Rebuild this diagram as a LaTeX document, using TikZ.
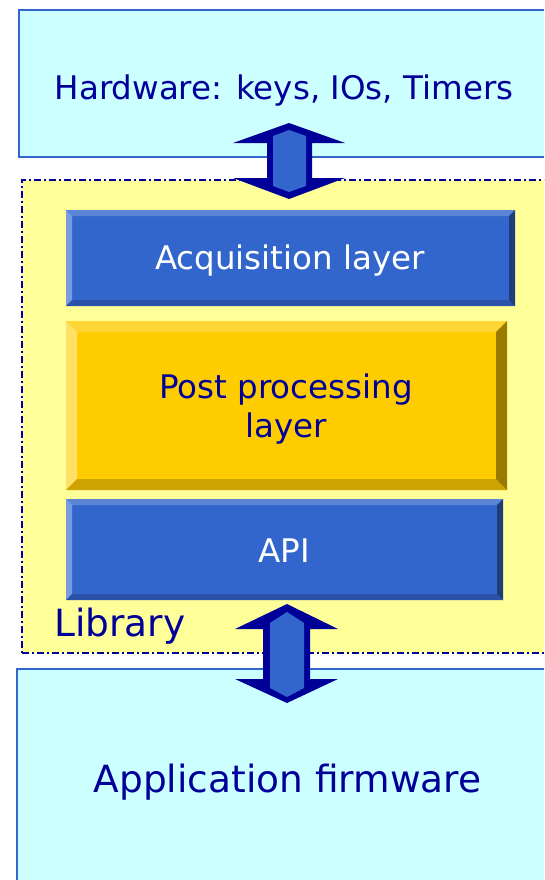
\documentclass[tikz,border=0pt]{standalone}
\usepackage{fontspec}
\setmainfont{DejaVu Sans}
\usetikzlibrary{calc}
\definecolor{cyanbg}{HTML}{CCFFFF}
\definecolor{boxblue}{HTML}{3366CC}
\definecolor{navy}{HTML}{000099}
\definecolor{libyellow}{HTML}{FFFF99}
\definecolor{gold}{HTML}{FFCC00}
\definecolor{bTop}{HTML}{5C85D6}
\definecolor{bLeft}{HTML}{7A9BE0}
\definecolor{bBot}{HTML}{2A52A8}
\definecolor{bRight}{HTML}{1F3D7A}
\definecolor{gTop}{HTML}{FFD633}
\definecolor{gLeft}{HTML}{FFE066}
\definecolor{gBot}{HTML}{CCA300}
\definecolor{gRight}{HTML}{997A00}
\newcommand\bevelon[6]{%
  \fill[#3] (#1.north west) -- (#1.north east) -- ([shift={(-#2,#2)}]#1.north east) -- ([shift={(#2,#2)}]#1.north west) -- cycle;
  \fill[#4] (#1.north west) -- (#1.south west) -- ([shift={(#2,-#2)}]#1.south west) -- ([shift={(#2,#2)}]#1.north west) -- cycle;
  \fill[#5] (#1.south west) -- (#1.south east) -- ([shift={(-#2,-#2)}]#1.south east) -- ([shift={(#2,-#2)}]#1.south west) -- cycle;
  \fill[#6] (#1.north east) -- (#1.south east) -- ([shift={(-#2,-#2)}]#1.south east) -- ([shift={(-#2,#2)}]#1.north east) -- cycle;
}
\tikzset{
  panel/.style={rectangle, fill=cyanbg, draw=boxblue, line width=2.4pt, inner sep=0pt, outer sep=0pt},
  libpanel/.style={rectangle, fill=libyellow, draw=navy, line width=2pt, dash pattern=on 7pt off 3pt on 2pt off 3pt, inner sep=0pt, outer sep=0pt},
  layerblue/.style={rectangle, fill=boxblue, inner sep=0pt, outer sep=0pt},
  layergold/.style={rectangle, fill=gold, inner sep=0pt, outer sep=0pt},
  smalltxt/.style={font=\fontsize{32.5pt}{39pt}\selectfont, inner sep=0pt},
  bigtxt/.style={font=\fontsize{37.5pt}{44pt}\selectfont, inner sep=0pt, text=navy},
}
\begin{document}
\begin{tikzpicture}[x=1pt,y=-1pt]
\clip (0,0) rectangle (544,880);
% outer panels
\node[panel, minimum width=541pt, minimum height=147pt] (hw) at (289.5,83.5) {};
\node[libpanel, minimum width=538pt, minimum height=473pt] (lib) at (291,416.5) {};
\node[panel, minimum width=543pt, minimum height=231pt] (app) at (288.5,784.5) {};
% layers
\node[layerblue, minimum width=449pt, minimum height=96pt] (acq) at (290.5,258) {};
\bevelon{acq}{6}{bTop}{bLeft}{bBot}{bRight}
\node[layergold, minimum width=441pt, minimum height=169pt] (post) at (286.5,405.5) {};
\bevelon{post}{11}{gTop}{gLeft}{gBot}{gRight}
\node[layerblue, minimum width=437pt, minimum height=101pt] (api) at (284.5,549.5) {};
\bevelon{api}{6}{bTop}{bLeft}{bBot}{bRight}
% texts
\node[smalltxt, text=navy, anchor=base] (hwlabel) at (284,100) {Hardware: keys, IOs, Timers};
\node[smalltxt, text=white, anchor=base] (acqlabel) at (290,269) {Acquisition layer};
\node[smalltxt, text=navy, align=center] (postlabel) at (286,409) {Post processing\\layer};
\node[smalltxt, text=white, anchor=base] (apilabel) at (284,562) {API};
\node[bigtxt, anchor=base west] (liblabel) at (54,636) {Library};
\node[bigtxt, anchor=base] (applabel) at (287.5,792) {Application firmware};
% top double arrow
\fill[navy] (289,123) -- (345,143) -- (312,143) -- (312,178) -- (345,178) -- (289,199)
  -- (233,178) -- (267,178) -- (267,143) -- (233,143) -- cycle;
\fill[boxblue] (273,136) -- (289,130) -- (306,136) -- (306,186) -- (289,192) -- (273,186) -- cycle;
% bottom double arrow
\fill[navy] (287,604) -- (338,629) -- (310,629) -- (310,679) -- (338,679) -- (287,703)
  -- (235,679) -- (263,679) -- (263,629) -- (235,629) -- cycle;
\fill[boxblue] (270,623) -- (287,612) -- (304,623) -- (304,688) -- (287,697) -- (270,688) -- cycle;
\end{tikzpicture}
\end{document}
